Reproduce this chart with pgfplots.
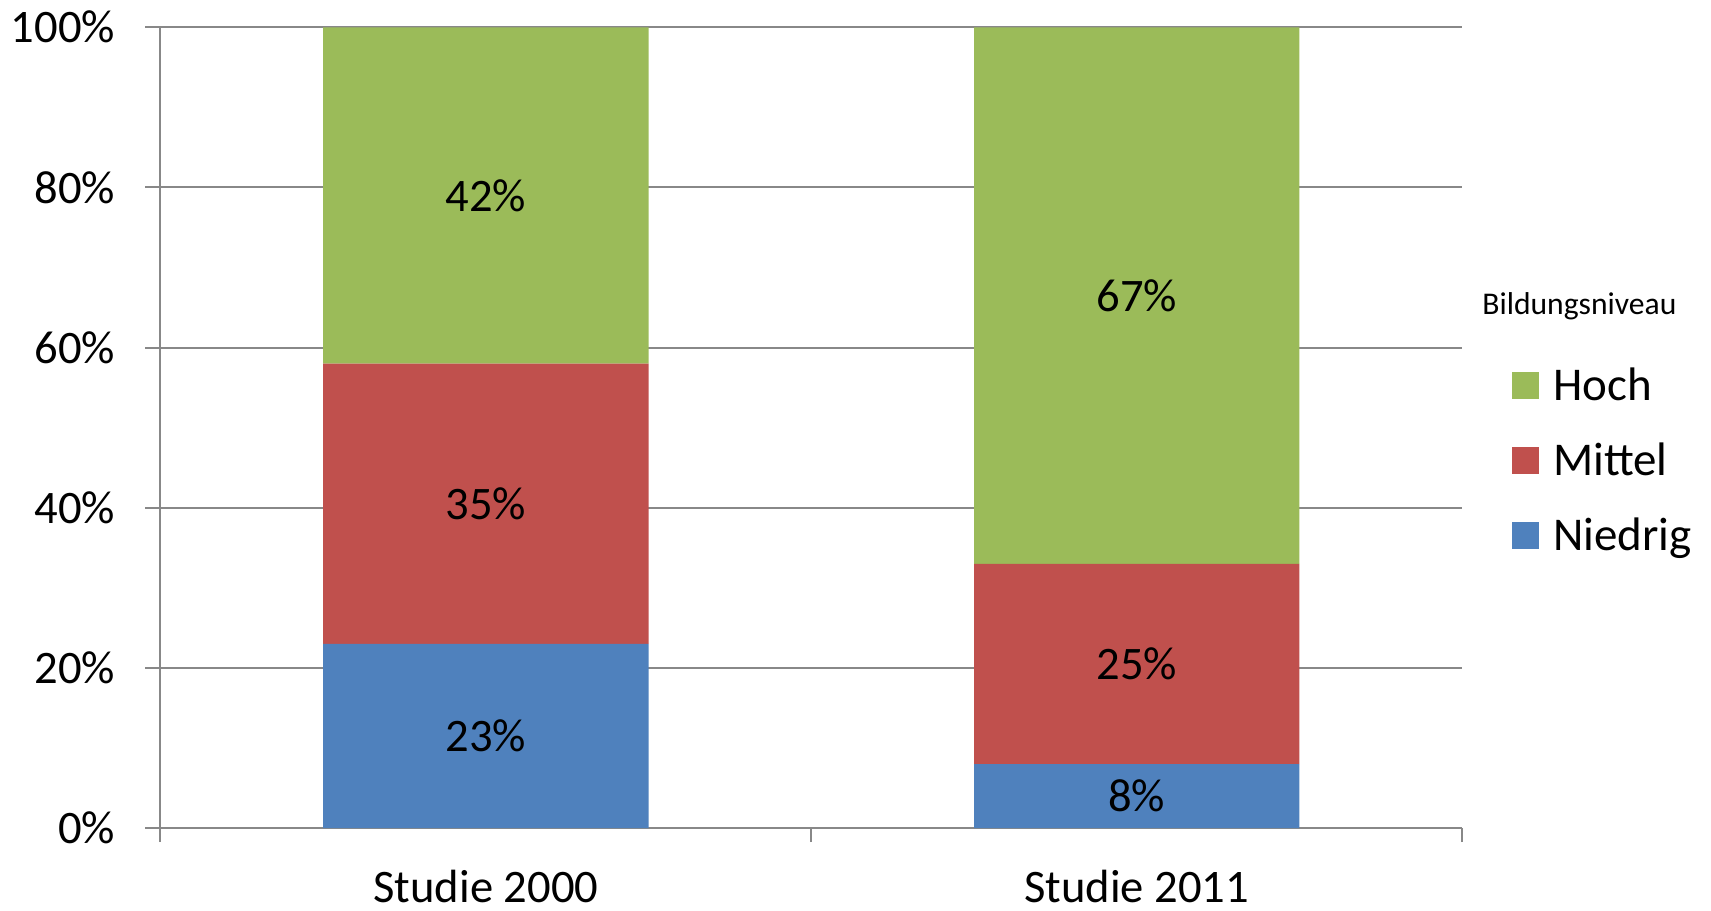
\documentclass[border=0pt]{standalone}
\usepackage{pgfplots}
\pgfplotsset{compat=1.18}
\usepackage{fontspec}
\setmainfont{Carlito}
\definecolor{hoch}{HTML}{9BBB59}
\definecolor{mittel}{HTML}{C0504D}
\definecolor{niedrig}{HTML}{4F81BD}
\definecolor{gridgray}{HTML}{888888}
\begin{document}
\begin{tikzpicture}
\path[use as bounding box] (0,0) rectangle (855.5pt,455pt);
\begin{axis}[
  at={(80.2pt,40.9pt)}, anchor=south west,
  scale only axis, width=650.9pt, height=400.45pt,
  clip=false,
  ybar stacked, bar width=0.5,
  xmin=-0.5, xmax=1.5, ymin=0, ymax=100,
  xtick={0,1}, xticklabels={Studie 2000,Studie 2011},
  minor xtick={-0.5,0.5,1.5},
  ytick={0,20,40,60,80,100},
  yticklabels={0\%,20\%,40\%,60\%,80\%,100\%},
  axis lines=left,
  axis line style={-, draw=gridgray, line width=1pt},
  ymajorgrids, grid style={draw=gridgray, line width=1pt},
  tick align=outside,
  major tick length=7.5pt, minor tick length=7pt,
  major x tick style={draw=none},
  minor x tick style={draw=gridgray, line width=1pt},
  y tick style={draw=gridgray, line width=1pt},
  ticklabel style={font=\fontsize{23.3}{27}\selectfont, inner sep=0pt},
  yticklabel style={xshift=-15pt},
  xticklabel style={yshift=-13.5pt},
  legend style={at={(rel axis cs:1.0383,0.5746)}, anchor=north west, draw=none, fill=none,
    inner sep=0pt, outer sep=0pt, font=\fontsize{23.5}{27}\selectfont,
    nodes={inner sep=0pt, text height=16pt, text depth=1.2pt},
    row sep=20.3pt, /tikz/every odd column/.append style={column sep=7pt}},
  legend cell align=left, reverse legend,
  legend image code/.code={\fill[#1] (0pt,-6.75pt) rectangle (13.5pt,6.75pt);},
  nodes near coords, point meta=explicit symbolic,
  every node near coord/.append style={anchor=center, text=black, inner sep=0pt,
    font=\fontsize{23.3}{27}\selectfont},
]
\addplot[fill=niedrig, draw=none] coordinates {(0,23) [23\%] (1,8) [8\%]};
\addlegendentry{Niedrig}
\addplot[fill=mittel, draw=none] coordinates {(0,35) [35\%] (1,25) [25\%]};
\addlegendentry{Mittel}
\addplot[fill=hoch, draw=none] coordinates {(0,42) [42\%] (1,67) [67\%]};
\addlegendentry{Hoch}
\node[font=\fontsize{15.8}{19}\selectfont, anchor=base west, inner sep=0pt, text=black] at (rel axis cs:1.0152,0.6408) {Bildungsniveau};
\end{axis}
\end{tikzpicture}
\end{document}
